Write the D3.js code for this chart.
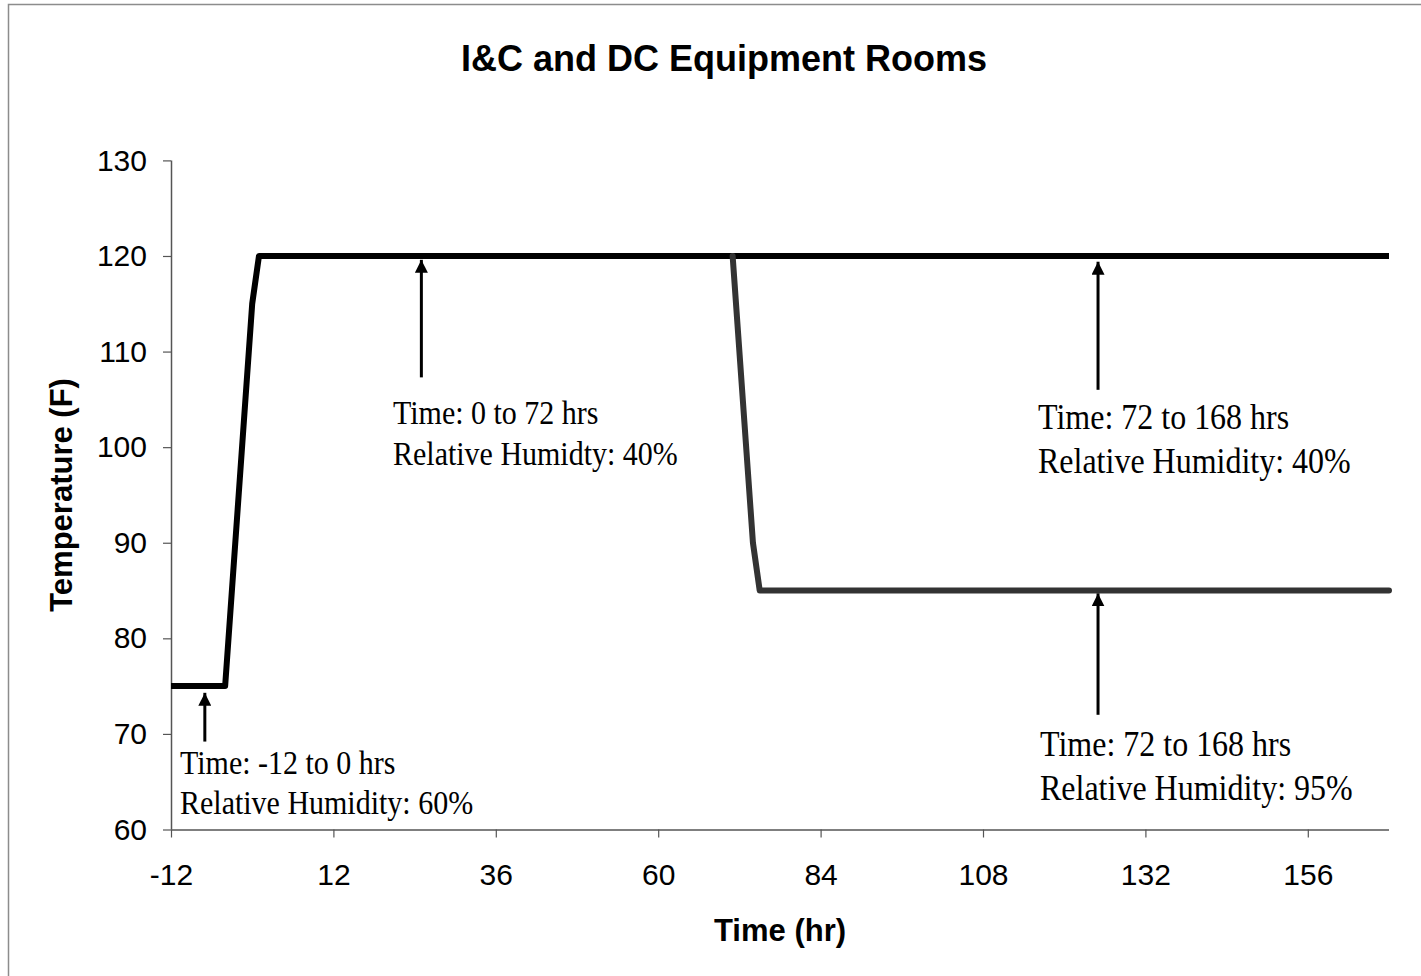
<!DOCTYPE html>
<html>
<head>
<meta charset="utf-8">
<script src="https://cdn.jsdelivr.net/npm/d3@7"></script>
<style>
  html, body { margin: 0; padding: 0; background: #fff; }
  svg { display: block; }
</style>
</head>
<body>
<svg id="chart" width="1421" height="976"></svg>
<script>
// ---- data ----
const chartTitle = "I&C and DC Equipment Rooms";
const xAxisTitle = "Time (hr)";
const yAxisTitle = "Temperature (F)";
const xTickValues = [-12, 12, 36, 60, 84, 108, 132, 156];
const yTickValues = [60, 70, 80, 90, 100, 110, 120, 130];

// Series 1: 40% RH profile (black)
const timeSeries1 = [-12, -4, 0, 1, 168];
const tempSeries1 = [75, 75, 115, 120, 120];
// Series 2: 95% RH profile (dark gray)
const timeSeries2 = [71, 74, 75, 168];
const tempSeries2 = [120, 90, 85, 85];

// Annotations (arrow at time, from tail value up to tip value)
const annTime = [-7, 25, 125, 125];
const annTip = [74.3, 119.6, 119.4, 84.7];
const annTail = [69.2, 107.3, 106.0, 72.0];
const annLine1 = ["Time: -12 to 0 hrs", "Time: 0 to 72 hrs", "Time: 72 to 168 hrs", "Time: 72 to 168 hrs"];
const annLine2 = ["Relative Humidity: 60%", "Relative Humidty: 40%", "Relative Humidity: 40%", "Relative Humidity: 95%"];

// ---- layout ----
const W = 1421, H = 976;
const plot = { left: 171, right: 1389, top: 160.4, bottom: 829.5 };
const annLayout = [
  { x: 180, y: 774, gap: 40, size: 30 },
  { x: 393, y: 424, gap: 41, size: 30 },
  { x: 1038, y: 429, gap: 44, size: 32 },
  { x: 1040, y: 756, gap: 44, size: 32 }
];

const svg = d3.select("#chart");

// outer border
svg.append("rect")
  .attr("x", 8.5).attr("y", 4.5)
  .attr("width", 1440).attr("height", 1000)
  .attr("fill", "#fff").attr("stroke", "#8c8c8c").attr("stroke-width", 1.5);

const x = d3.scaleLinear().domain([-12, 168]).range([plot.left, plot.right]);
const y = d3.scaleLinear().domain([60, 130]).range([plot.bottom, plot.top]);

// title
svg.append("text")
  .attr("x", 724).attr("y", 71)
  .attr("text-anchor", "middle")
  .attr("font-family", "Liberation Sans, Arial, sans-serif")
  .attr("font-weight", "bold")
  .attr("font-size", 36)
  .attr("fill", "#000")
  .text(chartTitle);

// axes
const axisColor = "#555";
const fmt = d => String(d);
const xAxis = svg.append("g")
  .attr("transform", `translate(0,${plot.bottom})`)
  .call(d3.axisBottom(x).tickValues(xTickValues).tickSize(8).tickPadding(26).tickFormat(fmt));
const yAxis = svg.append("g")
  .attr("transform", `translate(${plot.left},0)`)
  .call(d3.axisLeft(y).tickValues(yTickValues).tickSize(8).tickPadding(16).tickFormat(fmt));

[xAxis, yAxis].forEach(g => {
  g.select(".domain").attr("stroke", axisColor).attr("stroke-width", 1.5);
  g.selectAll(".tick line").attr("stroke", axisColor).attr("stroke-width", 1.2);
  g.selectAll(".tick text")
    .attr("font-family", "Liberation Sans, Arial, sans-serif")
    .attr("font-size", 30)
    .attr("fill", "#000");
});
xAxis.select(".domain").attr("d", `M${plot.left},0.5H${plot.right}`);
yAxis.select(".domain").attr("d", `M0.5,${plot.top}V${plot.bottom}`);

// axis titles
svg.append("text")
  .attr("x", (plot.left + plot.right) / 2).attr("y", 941)
  .attr("text-anchor", "middle")
  .attr("font-family", "Liberation Sans, Arial, sans-serif")
  .attr("font-weight", "bold")
  .attr("font-size", 31)
  .text(xAxisTitle);

svg.append("text")
  .attr("transform", `translate(72,${(plot.top + plot.bottom) / 2}) rotate(-90)`)
  .attr("text-anchor", "middle")
  .attr("font-family", "Liberation Sans, Arial, sans-serif")
  .attr("font-weight", "bold")
  .attr("font-size", 31)
  .text(yAxisTitle);

// lines
const line = d3.line().x(d => x(d[0])).y(d => y(d[1]));
const s1 = timeSeries1.map((t, i) => [t, tempSeries1[i]]);
const s2 = timeSeries2.map((t, i) => [t, tempSeries2[i]]);

svg.append("path").datum(s1)
  .attr("d", line)
  .attr("fill", "none").attr("stroke", "#000").attr("stroke-width", 6)
  .attr("stroke-linejoin", "round").attr("stroke-linecap", "butt");

svg.append("path").datum(s2)
  .attr("d", line)
  .attr("fill", "none").attr("stroke", "#333").attr("stroke-width", 6)
  .attr("stroke-linejoin", "round").attr("stroke-linecap", "round");

// arrowhead marker
const defs = svg.append("defs");
defs.append("marker")
  .attr("id", "arrowhead")
  .attr("viewBox", "0 0 13 13")
  .attr("refX", 13).attr("refY", 6.5)
  .attr("markerWidth", 13).attr("markerHeight", 13)
  .attr("markerUnits", "userSpaceOnUse")
  .attr("orient", "auto")
  .append("path")
  .attr("d", "M0,0 L13,6.5 L0,13 Z")
  .attr("fill", "#000");

// annotations
annTime.forEach((t, i) => {
  svg.append("line")
    .attr("x1", x(t)).attr("x2", x(t))
    .attr("y1", y(annTail[i])).attr("y2", y(annTip[i]))
    .attr("stroke", "#000").attr("stroke-width", 3)
    .attr("marker-end", "url(#arrowhead)");
  const L = annLayout[i];
  const g = svg.append("g")
    .attr("font-family", "Liberation Serif, Times New Roman, serif")
    .attr("font-size", L.size)
    .attr("fill", "#000");
  g.append("text")
    .attr("transform", `translate(${L.x},${L.y}) scale(1,1.1)`)
    .text(annLine1[i]);
  g.append("text")
    .attr("transform", `translate(${L.x},${L.y + L.gap}) scale(1,1.1)`)
    .text(annLine2[i]);
});
</script>
</body>
</html>
